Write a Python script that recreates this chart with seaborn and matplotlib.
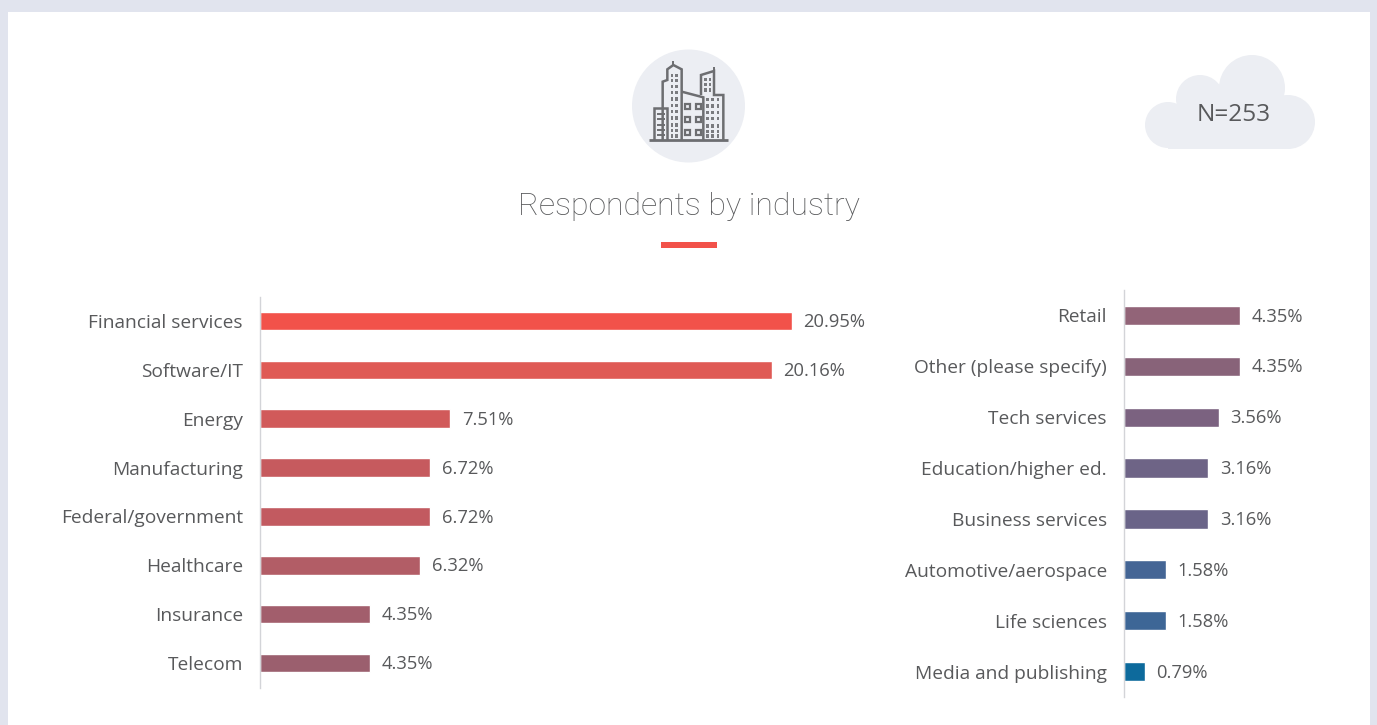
import matplotlib
matplotlib.use("Agg")
import matplotlib.pyplot as plt
import pandas as pd
import seaborn as sns
from matplotlib.patches import Circle, Rectangle

W, H = 1377, 725
left_cats = ["Financial services", "Software/IT", "Energy", "Manufacturing",
             "Federal/government", "Healthcare", "Insurance", "Telecom"]
left_vals = [20.95, 20.16, 7.51, 6.72, 6.72, 6.32, 4.35, 4.35]
left_cols = ["#F2524A", "#DF5A55", "#D15A5A", "#C65A5E", "#C25A60", "#B25D66", "#A25E6C", "#9B5F6E"]
right_cats = ["Retail", "Other (please specify)", "Tech services", "Education/higher ed.",
              "Business services", "Automotive/aerospace", "Life sciences", "Media and publishing"]
right_vals = [4.35, 4.35, 3.56, 3.16, 3.16, 1.58, 1.58, 0.79]
right_cols = ["#926478", "#886379", "#7B6280", "#6E6486", "#6A6488", "#446595", "#3D6696", "#0D6A9C"]

sns.set_theme(style="white")
plt.rcParams["font.family"] = ["Open Sans", "DejaVu Sans"]
TXT = "#58595B"
fig = plt.figure(figsize=(W / 100, H / 100), dpi=100, facecolor="#E1E4EE")

def px_axes(x0, y0, x1, y1, **kw):
    return fig.add_axes([x0 / W, 1 - y1 / H, (x1 - x0) / W, (y1 - y0) / H], **kw)

bg = px_axes(0, 0, W, H)
bg.set_xlim(0, W); bg.set_ylim(H, 0); bg.axis("off")
bg.add_patch(Rectangle((8, 12), 1362, 720, fc="white", ec="none"))

# icon
bg.add_patch(Circle((688.5, 106), 56.5, fc="#ECEEF3", ec="none"))
GR = "#6D6E71"
def z(x, y):
    return 620 + x / 3, 40 + y / 3
def poly(pts, lw=1.8):
    xs, ys = zip(*[z(*p) for p in pts])
    bg.plot(xs, ys, color=GR, lw=lw, solid_joinstyle="miter", solid_capstyle="butt")
poly([(88, 301), (325, 301)], 2)
poly([(128, 301), (128, 125), (142, 120), (142, 88), (160, 75), (185, 88), (185, 301)])
poly([(160, 62), (160, 75)], 1.4)
poly([(102, 301), (102, 203), (142, 203), (142, 301)])
poly([(185, 155), (250, 172), (250, 301)])
poly([(243, 165), (243, 105), (282, 93), (282, 165), (310, 165), (310, 301)])
poly([(282, 80), (282, 93)], 1.4)
for yy in (222, 238, 254, 270, 286):
    poly([(112, yy), (134, yy)], 1.4)
def dots(xs, ys, w=8, h=10):
    for x in xs:
        for y in ys:
            px, py = z(x - w / 2, y - h / 2)
            bg.add_patch(Rectangle((px, py), w / 3, h / 3, fc="#7A7B7F", ec="none"))
dots((156, 169), (106, 122, 140, 158, 177, 196, 215, 234, 255, 272, 288))
dots((256, 270), (118, 134, 150))
dots((262, 278, 294), (178, 198, 218, 236, 258, 275, 288))
for x in (203, 235):
    for y in (199, 238, 277):
        px, py = z(x - 7, y - 8)
        bg.add_patch(Rectangle((px, py), 14 / 3, 16 / 3, fc="none", ec=GR, lw=1.6))

# cloud
CL = "#ECEEF3"
for c, r in [((1168, 125), 23), ((1288, 122), 27), ((1252, 88), 33), ((1200, 99), 24)]:
    bg.add_patch(Circle(c, r, fc=CL, ec="none"))
bg.add_patch(Rectangle((1178, 100), 110, 48.5, fc=CL, ec="none"))
bg.add_patch(Rectangle((1168, 125), 20, 23.5, fc=CL, ec="none"))
bg.text(1234, 115, "N=253", fontsize=17.6, color=TXT, ha="center", va="center")

bg.text(689, 206.5, "Respondents by industry", fontsize=23.05, fontweight="light",
        family=["Roboto", "DejaVu Sans"], color=TXT, ha="center", va="center")
bg.add_patch(Rectangle((661, 242), 56, 5.5, fc="#F2524A", ec="none"))

def panel(ax, cats, vals, cols, xmax, height):
    df = pd.DataFrame({"cat": cats, "val": vals})
    sns.barplot(data=df, x="val", y="cat", hue="cat", palette=cols, order=cats,
                hue_order=cats, dodge=False, legend=False, width=height, ax=ax,
                saturation=1)
    ax.set_xlim(0, xmax)
    ax.set_xlabel(""); ax.set_ylabel("")
    ax.patch.set_alpha(0)
    ax.xaxis.set_visible(False)
    sns.despine(ax=ax, left=False, top=True, right=True, bottom=True)
    ax.spines["left"].set_color("#D3D4D8")
    ax.spines["left"].set_linewidth(1)
    ax.tick_params(axis="y", length=0, pad=12, labelsize=13.8, labelcolor=TXT)
    for cont in ax.containers:
        for t in ax.bar_label(cont, fmt="%.2f%%", padding=8.4, fontsize=13.2, color=TXT):
            t.xyann = (t.xyann[0], -0.8)

a1 = px_axes(259.5, 296.5, 900, 687.5)
panel(a1, left_cats, left_vals, left_cols, 640.5 / 25.4, 0.38)
a2 = px_axes(1123.5, 290, 1370, 697)
panel(a2, right_cats, right_vals, right_cols, 246.5 / 26.8, 0.38)

fig.savefig("out.png", dpi=100, facecolor=fig.get_facecolor())
